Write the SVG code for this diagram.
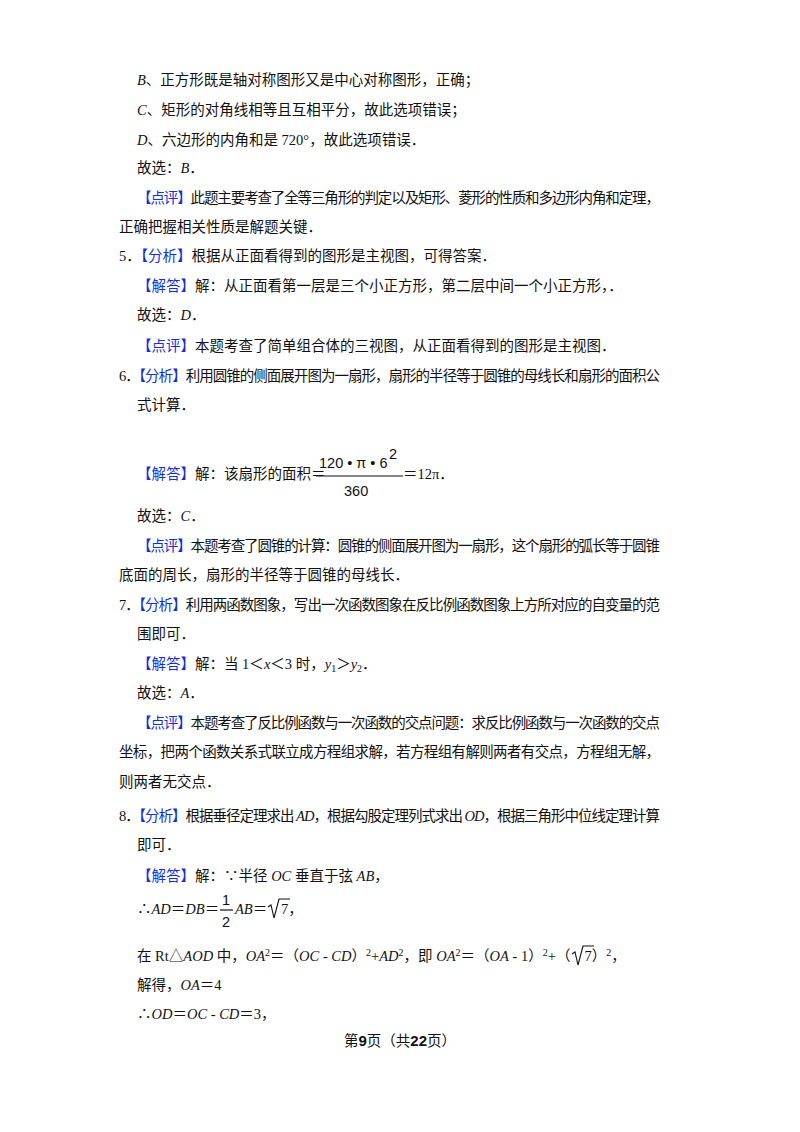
<svg xmlns="http://www.w3.org/2000/svg" width="800" height="1132" viewBox="0 0 800 1132">
<style>
text{font-family:"Liberation Serif","Noto Sans CJK SC",serif;font-size:14.5px;fill:#111}
.b{fill:#1030e0}
.i{font-style:italic}
.s{font-family:"Liberation Sans","Noto Sans CJK SC",sans-serif}
</style>
<rect width="800" height="1132" fill="#fff"/>
<g id="text">
<text x="137" y="85"><tspan class="i">B</tspan>、正方形既是轴对称图形又是中心对称图形，正确；</text>
<text x="137" y="115"><tspan class="i">C</tspan>、矩形的对角线相等且互相平分，故此选项错误；</text>
<text x="137" y="145"><tspan class="i">D</tspan>、六边形的内角和是 720°，故此选项错误．</text>
<text x="137" y="173">故选：<tspan class="i">B</tspan>．</text>
<text x="137" y="203" textLength="523"><tspan class="b">【点评】</tspan>此题主要考查了全等三角形的判定以及矩形、菱形的性质和多边形内角和定理，</text>
<text x="119" y="232">正确把握相关性质是解题关键．</text>
<text x="119" y="261">5．<tspan class="b">【分析】</tspan>根据从正面看得到的图形是主视图，可得答案．</text>
<text x="137" y="291"><tspan class="b">【解答】</tspan>解：从正面看第一层是三个小正方形，第二层中间一个小正方形，．</text>
<text x="137" y="320">故选：<tspan class="i">D</tspan>．</text>
<text x="137" y="351"><tspan class="b">【点评】</tspan>本题考查了简单组合体的三视图，从正面看得到的图形是主视图．</text>
<text x="119" y="381" textLength="541">6．<tspan class="b">【分析】</tspan>利用圆锥的侧面展开图为一扇形，扇形的半径等于圆锥的母线长和扇形的面积公</text>
<text x="137" y="410">式计算．</text>
<text x="137" y="479"><tspan class="b">【解答】</tspan>解：该扇形的面积＝</text>
<text x="319" y="468" class="s" font-size="17">120 • π • 6</text>
<text x="389" y="459" class="s" font-size="13">2</text>
<line x1="316" y1="476" x2="403" y2="476" stroke="#111" stroke-width="1.2"/>
<text x="344" y="496" class="s" font-size="17">360</text>
<text x="403" y="479">＝12π．</text>
<text x="137" y="521">故选：<tspan class="i">C</tspan>．</text>
<text x="137" y="551" textLength="523"><tspan class="b">【点评】</tspan>本题考查了圆锥的计算：圆锥的侧面展开图为一扇形，这个扇形的弧长等于圆锥</text>
<text x="119" y="580">底面的周长，扇形的半径等于圆锥的母线长．</text>
<text x="119" y="610" textLength="541">7．<tspan class="b">【分析】</tspan>利用两函数图象，写出一次函数图象在反比例函数图象上方所对应的自变量的范</text>
<text x="137" y="639">围即可．</text>
<text x="137" y="669"><tspan class="b">【解答】</tspan>解：当 1＜<tspan class="i">x</tspan>＜3 时，<tspan class="i">y</tspan><tspan font-size="10" dy="3">1</tspan><tspan dy="-3">＞</tspan><tspan class="i">y</tspan><tspan font-size="10" dy="3">2</tspan><tspan dy="-3">．</tspan></text>
<text x="137" y="698">故选：<tspan class="i">A</tspan>．</text>
<text x="137" y="728" textLength="523"><tspan class="b">【点评】</tspan>本题考查了反比例函数与一次函数的交点问题：求反比例函数与一次函数的交点</text>
<text x="119" y="757" textLength="541">坐标，把两个函数关系式联立成方程组求解，若方程组有解则两者有交点，方程组无解，</text>
<text x="119" y="787">则两者无交点．</text>
<text x="119" y="821" textLength="541">8．<tspan class="b">【分析】</tspan>根据垂径定理求出 <tspan class="i">AD</tspan>，根据勾股定理列式求出 <tspan class="i">OD</tspan>，根据三角形中位线定理计算</text>
<text x="137" y="850">即可．</text>
<text x="137" y="881"><tspan class="b">【解答】</tspan>解：∵半径 <tspan class="i">OC</tspan> 垂直于弦 <tspan class="i">AB</tspan>，</text>
<text x="137" y="914">∴<tspan class="i">AD</tspan>＝<tspan class="i">DB</tspan>＝</text>
<text x="222" y="905" class="s" font-size="16">1</text>
<line x1="220" y1="910" x2="233" y2="910" stroke="#111" stroke-width="1.2"/>
<text x="222" y="927" class="s" font-size="16">2</text>
<text x="235" y="914"><tspan class="i">AB</tspan>＝</text>
<path d="M268 907 L271 905 L274 918 L279 899 L290 899" fill="none" stroke="#111" stroke-width="1.1"/>
<text x="281" y="914">7，</text>
<text x="137" y="961">在 Rt△<tspan class="i">AOD</tspan> 中，<tspan class="i">OA</tspan><tspan font-size="10" dy="-5">2</tspan><tspan dy="5">＝（</tspan><tspan class="i">OC</tspan> - <tspan class="i">CD</tspan>）<tspan font-size="10" dy="-5">2</tspan><tspan dy="5">+</tspan><tspan class="i">AD</tspan><tspan font-size="10" dy="-5">2</tspan><tspan dy="5">，即 </tspan><tspan class="i">OA</tspan><tspan font-size="10" dy="-5">2</tspan><tspan dy="5">＝（</tspan><tspan class="i">OA</tspan> - 1）<tspan font-size="10" dy="-5">2</tspan><tspan dy="5">+（</tspan><tspan dx="14">7）</tspan><tspan font-size="10" dy="-5">2</tspan><tspan dy="5">，</tspan></text>
<path d="M572 954 L575 952 L578 965 L583 946 L594 946" fill="none" stroke="#111" stroke-width="1.1"/>
<text x="137" y="990">解得，<tspan class="i">OA</tspan>＝4</text>
<text x="137" y="1019">∴<tspan class="i">OD</tspan>＝<tspan class="i">OC</tspan> - <tspan class="i">CD</tspan>＝3，</text>
<text x="400" y="1046" text-anchor="middle" font-size="13">第<tspan class="s" font-weight="bold" font-size="15">9</tspan>页（共<tspan class="s" font-weight="bold" font-size="15">22</tspan>页）</text>
</g>
</svg>
